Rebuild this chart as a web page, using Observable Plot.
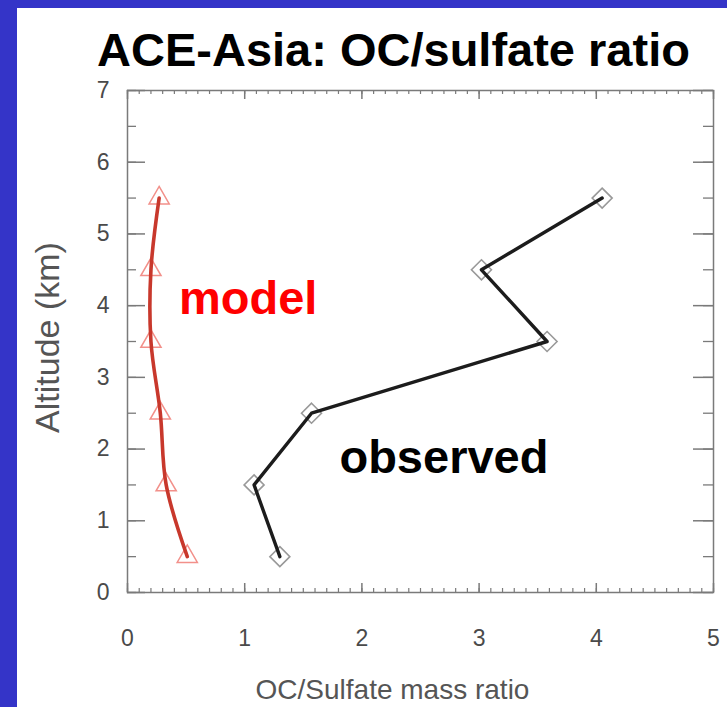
<!DOCTYPE html>
<html><head><meta charset="utf-8">
<script src="https://cdn.jsdelivr.net/npm/d3@7"></script>
<script src="https://cdn.jsdelivr.net/npm/@observablehq/plot@0.6"></script>
<style>
html,body{margin:0;padding:0;background:#3434c8;width:727px;height:707px;overflow:hidden;}
#page{position:absolute;left:17px;top:8px;width:710px;height:699px;background:#fff;overflow:hidden;}
#chart{position:absolute;left:0;top:0;}
</style></head><body><div id="page"><div id="chart"></div></div>
<script>
// Altitude bins (km)
const altitudes = [0.5, 1.5, 2.5, 3.5, 4.5, 5.5];
// OC/sulfate mass ratio, observed (ACE-Asia)
const observedRatio = [1.30, 1.08, 1.57, 3.58, 3.02, 4.05];
// OC/sulfate mass ratio, model
const modelRatio = [0.51, 0.33, 0.28, 0.20, 0.20, 0.27];
// tick labels
const xTicks = [0, 1, 2, 3, 4, 5];
const yTicks = [0, 1, 2, 3, 4, 5, 6, 7];
const xMinorTicks = d3.range(0, 51).map(i => i / 10);
const yMinorTicks = d3.range(0, 15).map(i => i / 2);
// in-plot annotations (data units)
const labelText = ["model", "observed"];
const labelRatio = [1.03, 2.70];
const labelAlt = [4.10, 1.87];
const labelColor = ["#ff0000", "#000000"];

const observed = altitudes.map((a, i) => ({alt: a, ratio: observedRatio[i]}));
const model = altitudes.map((a, i) => ({alt: a, ratio: modelRatio[i]}));
const labels = labelText.map((t, i) => ({text: t, ratio: labelRatio[i], alt: labelAlt[i], color: labelColor[i]}));

const FONT = "'Liberation Sans', Arial, Helvetica, sans-serif";
const tickGray = "#7a7a7a";
const fmt = d => String(d);

const W = 710, H = 699, ML = 110, MR = 14, MT = 82, MB = 115;
const FW = W - ML - MR, FH = H - MT - MB;

const chart = Plot.plot({
  width: W, height: H,
  marginLeft: ML, marginRight: MR, marginTop: MT, marginBottom: MB,
  x: {domain: [0, 5], label: null},
  y: {domain: [0, 7], label: null},
  style: {fontFamily: FONT, background: "transparent", overflow: "visible"},
  marks: [
    // inward tick marks (minor and major) on all four sides
    Plot.tickX(xMinorTicks, {x: d => d, insetTop: FH - 4, stroke: tickGray, strokeWidth: 1.2}),
    Plot.tickX(xMinorTicks, {x: d => d, insetBottom: FH - 4, stroke: tickGray, strokeWidth: 1.2}),
    Plot.tickX(xTicks, {x: d => d, insetTop: FH - 9, stroke: tickGray, strokeWidth: 1.5}),
    Plot.tickX(xTicks, {x: d => d, insetBottom: FH - 9, stroke: tickGray, strokeWidth: 1.5}),
    Plot.tickY(yMinorTicks, {y: d => d, insetRight: FW - 9, stroke: tickGray, strokeWidth: 1.3}),
    Plot.tickY(yMinorTicks, {y: d => d, insetLeft: FW - 10, stroke: tickGray, strokeWidth: 1.3}),
    Plot.tickY(yTicks, {y: d => d, insetRight: FW - 18, stroke: tickGray, strokeWidth: 1.5}),
    Plot.tickY(yTicks, {y: d => d, insetLeft: FW - 20, stroke: tickGray, strokeWidth: 1.5}),
    // tick labels
    Plot.axisX(xTicks, {anchor: "bottom", tickSize: 0, tickPadding: 37, tickFormat: fmt, fontSize: 23, fill: "#4a4a4a", label: null}),
    Plot.axisY(yTicks, {anchor: "left", tickSize: 0, tickPadding: 18, tickFormat: fmt, fontSize: 23, fill: "#4a4a4a", label: null}),
    Plot.frame({stroke: tickGray, strokeWidth: 1.5}),
    // axis titles and chart title
    Plot.text(["OC/Sulfate mass ratio"], {frameAnchor: "bottom", textAnchor: "middle", dx: -28, dy: 98, lineAnchor: "middle", fontSize: 28, fill: "#555"}),
    Plot.text(["Altitude (km)"], {frameAnchor: "left", textAnchor: "middle", dx: -79, dy: -4, rotate: -90, lineAnchor: "middle", fontSize: 34, fill: "#555"}),
    Plot.text(["ACE-Asia: OC/sulfate ratio"], {frameAnchor: "top", textAnchor: "middle", dx: -27, dy: -40, lineAnchor: "middle", fontSize: 47, fontWeight: "bold", fill: "#000"}),
    // observed
    Plot.dot(observed, {x: "ratio", y: "alt", symbol: "diamond2", r: 9, stroke: "#999", strokeWidth: 1.6, fill: "#fff"}),
    Plot.line(observed, {x: "ratio", y: "alt", stroke: "#1c1c1c", strokeWidth: 3.4}),
    // model
    Plot.dot(model, {x: "ratio", y: "alt", symbol: "triangle", r: 7.5, stroke: "#f2908a", strokeWidth: 1.5, fill: "#fff"}),
    Plot.line(model, {x: "ratio", y: "alt", stroke: "#c8382c", strokeWidth: 3.6, curve: "catmull-rom"}),
    // annotations
    Plot.text(labels, {x: "ratio", y: "alt", text: "text", fill: "color", fontSize: 47, fontWeight: "bold", lineAnchor: "middle"})
  ]
});
document.getElementById("chart").appendChild(chart);
</script></body></html>
